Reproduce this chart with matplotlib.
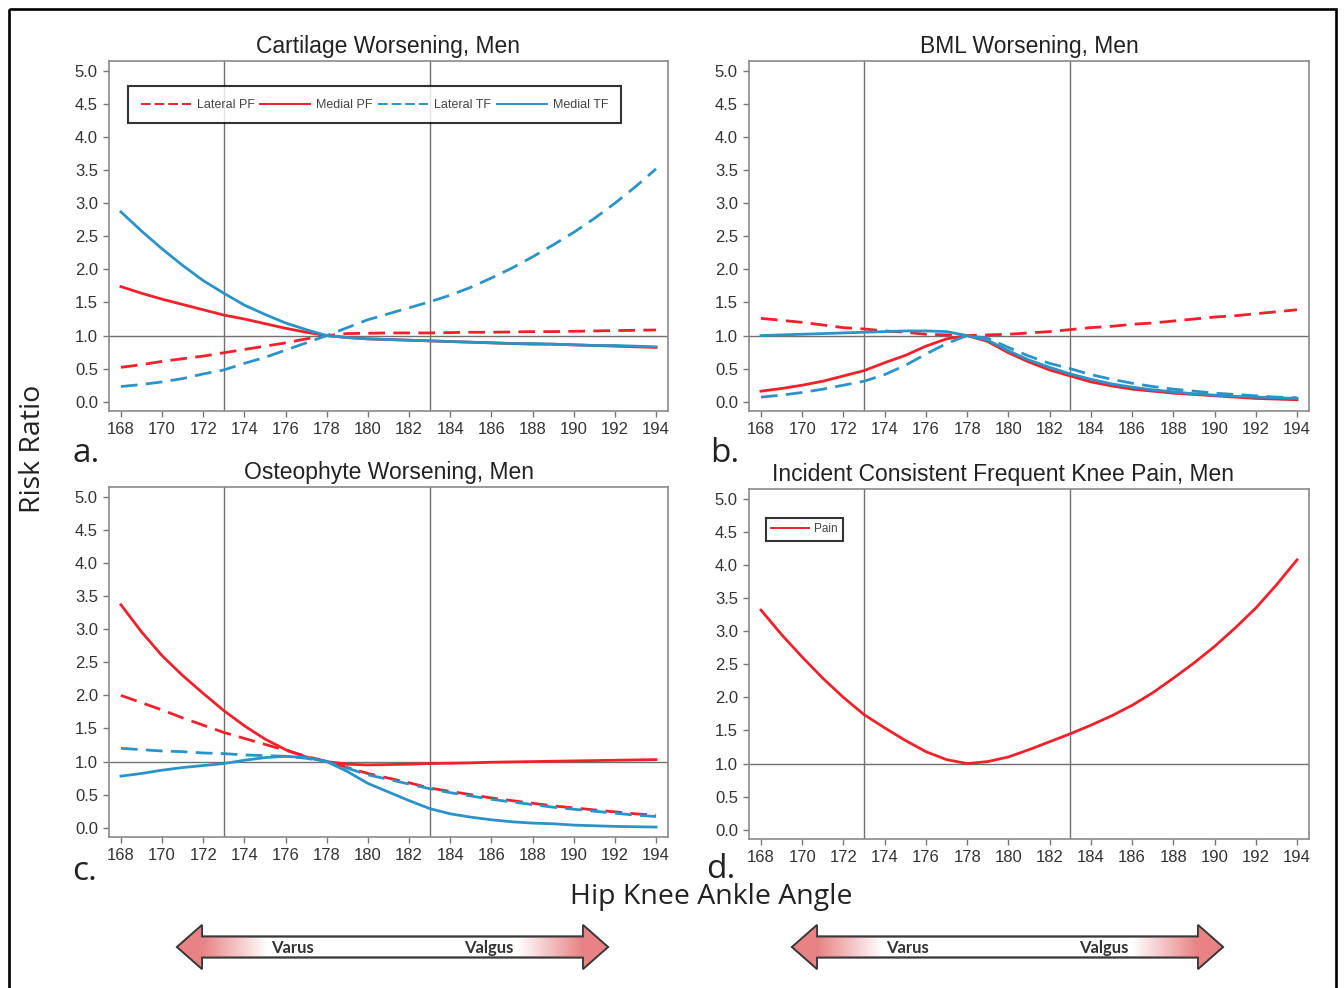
import matplotlib.pyplot as plt
import matplotlib.patches as mpatches
from matplotlib.lines import Line2D
import numpy as np

plt.rcParams['font.family'] = ['Liberation Sans', 'DejaVu Sans']

angle = list(range(168, 195))

# a. cartilage worsening
cart_lat_pf = [0.52, 0.56, 0.61, 0.65, 0.69, 0.74, 0.79, 0.84, 0.89, 0.95, 1.00, 1.03, 1.035, 1.04,
               1.04, 1.04, 1.045, 1.05, 1.05, 1.055, 1.06, 1.06, 1.065, 1.07, 1.075, 1.08, 1.085]
cart_med_pf = [1.74, 1.64, 1.55, 1.47, 1.39, 1.31, 1.25, 1.18, 1.11, 1.05, 1.00, 0.97, 0.95, 0.94,
               0.93, 0.92, 0.91, 0.90, 0.89, 0.88, 0.87, 0.87, 0.86, 0.85, 0.84, 0.83, 0.82]
cart_lat_tf = [0.23, 0.26, 0.30, 0.35, 0.42, 0.48, 0.58, 0.67, 0.78, 0.89, 1.00, 1.12, 1.24, 1.33,
               1.42, 1.51, 1.61, 1.73, 1.87, 2.02, 2.19, 2.37, 2.56, 2.77, 3.00, 3.25, 3.52]
cart_med_tf = [2.87, 2.58, 2.31, 2.06, 1.83, 1.64, 1.46, 1.32, 1.19, 1.09, 1.00, 0.97, 0.95, 0.94,
               0.93, 0.92, 0.91, 0.90, 0.89, 0.88, 0.88, 0.87, 0.86, 0.85, 0.85, 0.84, 0.83]

# b. BML worsening
bml_lat_pf = [1.26, 1.23, 1.20, 1.16, 1.12, 1.10, 1.07, 1.05, 1.02, 1.01, 1.00, 1.01, 1.02, 1.04,
              1.06, 1.09, 1.12, 1.14, 1.17, 1.19, 1.22, 1.25, 1.28, 1.30, 1.33, 1.36, 1.39]
bml_med_pf = [0.16, 0.20, 0.25, 0.31, 0.39, 0.47, 0.59, 0.70, 0.84, 0.95, 1.00, 0.91, 0.74, 0.60,
              0.48, 0.39, 0.30, 0.24, 0.19, 0.16, 0.13, 0.11, 0.09, 0.07, 0.05, 0.04, 0.03]
bml_lat_tf = [0.07, 0.10, 0.14, 0.19, 0.25, 0.31, 0.41, 0.55, 0.72, 0.88, 1.00, 0.96, 0.82, 0.69,
              0.58, 0.50, 0.41, 0.34, 0.28, 0.23, 0.19, 0.16, 0.13, 0.11, 0.09, 0.07, 0.06]
bml_med_tf = [1.00, 1.01, 1.02, 1.03, 1.04, 1.05, 1.06, 1.07, 1.07, 1.06, 1.00, 0.93, 0.77, 0.63,
              0.52, 0.42, 0.34, 0.27, 0.22, 0.18, 0.15, 0.12, 0.10, 0.08, 0.07, 0.06, 0.05]

# c. osteophyte worsening
ost_lat_pf = [2.00, 1.89, 1.78, 1.66, 1.55, 1.44, 1.35, 1.26, 1.17, 1.08, 1.00, 0.91, 0.82, 0.75,
              0.68, 0.60, 0.55, 0.50, 0.45, 0.41, 0.37, 0.33, 0.30, 0.27, 0.24, 0.21, 0.19]
ost_med_pf = [3.37, 2.96, 2.60, 2.30, 2.03, 1.77, 1.54, 1.34, 1.18, 1.07, 1.00, 0.96, 0.95, 0.955,
              0.96, 0.97, 0.975, 0.98, 0.99, 0.995, 1.00, 1.005, 1.01, 1.015, 1.02, 1.025, 1.03]
ost_lat_tf = [1.20, 1.18, 1.16, 1.15, 1.13, 1.12, 1.10, 1.09, 1.08, 1.05, 1.00, 0.90, 0.80, 0.73,
              0.66, 0.59, 0.53, 0.48, 0.43, 0.39, 0.35, 0.31, 0.28, 0.25, 0.22, 0.19, 0.17]
ost_med_tf = [0.78, 0.82, 0.87, 0.91, 0.94, 0.97, 1.02, 1.06, 1.08, 1.06, 1.00, 0.85, 0.67, 0.54,
              0.41, 0.29, 0.21, 0.16, 0.12, 0.09, 0.07, 0.06, 0.04, 0.03, 0.02, 0.015, 0.01]

# d. knee pain
pain = [3.32, 2.95, 2.61, 2.29, 2.00, 1.74, 1.54, 1.35, 1.18, 1.06, 1.00, 1.03, 1.10, 1.21,
        1.33, 1.45, 1.58, 1.72, 1.88, 2.07, 2.29, 2.52, 2.77, 3.05, 3.35, 3.70, 4.08]

xticks = list(range(168, 195, 2))
yticks = [0.0, 0.5, 1.0, 1.5, 2.0, 2.5, 3.0, 3.5, 4.0, 4.5, 5.0]

RED = '#f0212a'
BLUE = '#2b93c8'
DASH = (0, (6, 3))
W, H = 1344, 988

fig = plt.figure(figsize=(W / 100, H / 100), dpi=100)

# background layer: frame + arrows
bg = fig.add_axes([0, 0, 1, 1])
bg.set_xlim(0, W)
bg.set_ylim(H, 0)
bg.axis('off')
bg.add_patch(mpatches.Rectangle((9, 9), 1327, 1000, fill=False, edgecolor='black', lw=1.9))

pink = np.array([232, 130, 133]) / 255.0
for x0, x1 in [(177, 608), (792, 1223)]:
    yc, hl, hh, sh = 947, 25, 22, 10.5
    pts = [(x0, yc), (x0 + hl, yc - hh), (x0 + hl, yc - sh), (x1 - hl, yc - sh), (x1 - hl, yc - hh),
           (x1, yc), (x1 - hl, yc + hh), (x1 - hl, yc + sh), (x0 + hl, yc + sh), (x0 + hl, yc + hh)]
    poly = mpatches.Polygon(pts, closed=True, facecolor='white', edgecolor='#3a3a3a', lw=1.3, zorder=2)
    bg.add_patch(poly)
    n = x1 - x0
    d = np.minimum(np.arange(n), n - 1 - np.arange(n))
    grad = np.zeros((1, n, 4))
    grad[0, :, :3] = pink
    grad[0, :, 3] = np.clip((90 - d) / 65.0, 0, 1)
    im = bg.imshow(grad, extent=(x0, x1, yc + hh, yc - hh), aspect='auto', zorder=3)
    im.set_clip_path(poly)
    edge = mpatches.Polygon(pts, closed=True, fill=False, edgecolor='#3a3a3a', lw=1.3, zorder=4)
    bg.add_patch(edge)
    bg.text(x0 + 115, yc + 1, 'Varus', ha='center', va='center', fontsize=12, fontweight='bold',
            family='Lato', color='#333333', zorder=5)
    bg.text(x0 + 312, yc + 1, 'Valgus', ha='center', va='center', fontsize=12, fontweight='bold',
            family='Lato', color='#333333', zorder=5)
bg.set_xlim(0, W)
bg.set_ylim(H, 0)


def panel(l, t, r, b, title, tx=0.5):
    ax = fig.add_axes([l / W, 1 - b / H, (r - l) / W, (b - t) / H])
    ax.set_xlim(167.42, 194.58)
    ax.set_ylim(-0.14, 5.15)
    ax.set_xticks(xticks)
    ax.set_yticks(yticks)
    ax.set_yticklabels(['%.1f' % v for v in yticks])
    ax.tick_params(labelsize=12, labelcolor='#333333', color='#777777', length=4, width=1, pad=4)
    for s in ax.spines.values():
        s.set_color('#8a8a8a')
        s.set_linewidth(1.2)
    ax.axvline(173, color='#707070', lw=1.0, zorder=1)
    ax.axvline(183, color='#707070', lw=1.0, zorder=1)
    ax.axhline(1.0, color='#707070', lw=1.0, zorder=1)
    ax.set_title(title, fontsize=16.5, color='#222222', pad=6, x=tx)
    return ax


ax_a = panel(109, 61, 668, 411, 'Cartilage Worsening, Men')
ax_b = panel(749, 61, 1309, 411, 'BML Worsening, Men')
ax_c = panel(109, 487, 668, 837, 'Osteophyte Worsening, Men')
ax_d = panel(749, 489, 1309, 839, 'Incident Consistent Frequent Knee Pain, Men', tx=0.4536)

sets = [(ax_a, cart_lat_pf, cart_med_pf, cart_lat_tf, cart_med_tf),
        (ax_b, bml_lat_pf, bml_med_pf, bml_lat_tf, bml_med_tf),
        (ax_c, ost_lat_pf, ost_med_pf, ost_lat_tf, ost_med_tf)]
for ax, lpf, mpf, ltf, mtf in sets:
    ax.plot(angle, lpf, color=RED, lw=2.0, ls=DASH)
    ax.plot(angle, mpf, color=RED, lw=2.0)
    ax.plot(angle, ltf, color=BLUE, lw=2.0, ls=DASH)
    ax.plot(angle, mtf, color=BLUE, lw=2.0)

ax_d.plot(angle, pain, color=RED, lw=2.0)

handles = [Line2D([], [], color=RED, lw=1.4, ls=(0, (5, 2))),
           Line2D([], [], color=RED, lw=1.4),
           Line2D([], [], color=BLUE, lw=1.4, ls=(0, (5, 2))),
           Line2D([], [], color=BLUE, lw=1.4)]
leg = ax_a.legend(handles, ['Lateral PF', 'Medial PF', 'Lateral TF', 'Medial TF'], ncol=4,
                  loc='center', bbox_to_anchor=(0.034, 0.823, 0.882, 0.103), mode='expand',
                  fontsize=9, handlelength=4.0, handletextpad=0.5, borderpad=1.0, fancybox=False,
                  labelcolor='#444444', borderaxespad=0)
leg.get_frame().set_edgecolor('black')
leg.get_frame().set_linewidth(1.5)

leg2 = ax_d.legend([Line2D([], [], color=RED, lw=1.4)], ['Pain'], loc='upper left',
                   bbox_to_anchor=(0.03, 0.917), fontsize=8.5, handlelength=3.2, handletextpad=0.4,
                   borderpad=0.45, fancybox=False, labelcolor='#444444', borderaxespad=0)
leg2.get_frame().set_edgecolor('black')
leg2.get_frame().set_linewidth(1.5)

# labels and panel letters
fig.text(33 / W, 1 - 449 / H, 'Risk Ratio', rotation=90, ha='center', va='center', fontsize=20.5,
         family='Open Sans', color='#222222')
fig.text(711 / W, 1 - 897 / H, 'Hip Knee Ankle Angle', ha='center', va='center', fontsize=20.5,
         family='Open Sans', color='#222222')
for s, x, y in [('a.', 72, 462), ('b.', 710, 462), ('c.', 72, 880), ('d.', 706, 878)]:
    fig.text(x / W, 1 - y / H, s, ha='left', va='baseline', fontsize=24, family='Open Sans',
             color='#222222')

fig.savefig('out.png', dpi=100)
